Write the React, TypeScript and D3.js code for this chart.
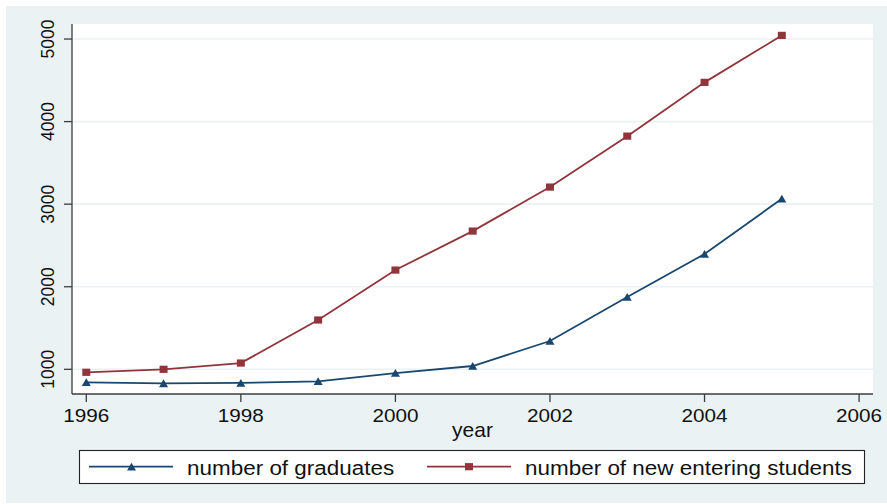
import * as d3 from 'd3'

const years = [1996, 1997, 1998, 1999, 2000, 2001, 2002, 2003, 2004, 2005]
const graduates = [843, 830, 835, 855, 955, 1040, 1343, 1875, 2396, 3065]
const newStudents = [964, 1000, 1076, 1597, 2202, 2674, 3207, 3824, 4475, 5044]
const yTicks = [1000, 2000, 3000, 4000, 5000]
const xTicks = [1996, 1998, 2000, 2002, 2004, 2006]
const seriesNames = ['number of graduates', 'number of new entering students']

const W = 887
const H = 504
const plot = { left: 72, right: 873, top: 24, bottom: 394 }
const blue = '#1a476f'
const red = '#90353b'
const bg = '#eaf2f3'
const axisColor = '#3c3c3c'
const font = 'Arial, "Liberation Sans", Helvetica, sans-serif'

const x = d3.scaleLinear().domain([1995.815, 2006.18]).range([plot.left, plot.right])
const y = d3.scaleLinear().domain([701, 5182]).range([plot.bottom, plot.top])

const line = d3
	.line<number>()
	.x((_, i) => x(years[i]))
	.y((d) => y(d))

const tri = (cx: number, cy: number, s = 9) =>
	`M${cx - s / 2},${cy + s * 0.42} L${cx + s / 2},${cy + s * 0.42} L${cx},${cy - s * 0.45} Z`

const App = () => {
	return (
		<div style={{ position: 'absolute', left: 0, top: 0 }}>
			<svg width={W} height={H} style={{ display: 'block', fontFamily: font }}>
				<rect x={0} y={0} width={W} height={H} fill='#fff' />
				<rect x={6} y={6} width={W - 6} height={H - 7} fill={bg} />
				<rect
					x={plot.left}
					y={plot.top}
					width={plot.right - plot.left}
					height={plot.bottom - plot.top}
					fill='#fff'
				/>
				{/* grid */}
				{yTicks.map((t) => (
					<line
						key={'g' + t}
						x1={plot.left}
						x2={plot.right}
						y1={y(t)}
						y2={y(t)}
						stroke={bg}
						strokeWidth={1.6}
					/>
				))}
				{/* y axis */}
				<line x1={plot.left} x2={plot.left} y1={plot.top} y2={plot.bottom} stroke={axisColor} strokeWidth={1.3} />
				{yTicks.map((t) => (
					<g key={'y' + t}>
						<line x1={plot.left - 8} x2={plot.left} y1={y(t)} y2={y(t)} stroke={axisColor} strokeWidth={1.3} />
						<text
							transform={`translate(54,${y(t)}) rotate(-90)`}
							textAnchor='middle'
							fontSize={17.5}
							fill='#111'
						>
							{t}
						</text>
					</g>
				))}
				{/* x axis */}
				<line x1={plot.left} x2={plot.right} y1={plot.bottom} y2={plot.bottom} stroke={axisColor} strokeWidth={1.3} />
				{xTicks.map((t) => (
					<g key={'x' + t}>
						<line x1={x(t)} x2={x(t)} y1={plot.bottom} y2={plot.bottom + 8} stroke={axisColor} strokeWidth={1.3} />
						<text
							transform={`translate(${x(t)},422) scale(1.15,1)`}
							textAnchor='middle'
							fontSize={18}
							fill='#111'
						>
							{t}
						</text>
					</g>
				))}
				<text
					transform={`translate(${(plot.left + plot.right) / 2},437) scale(1.05,1)`}
					textAnchor='middle'
					fontSize={20}
					fill='#111'
				>
					year
				</text>
				{/* series */}
				<path d={line(graduates) ?? ''} fill='none' stroke={blue} strokeWidth={1.8} />
				<path d={line(newStudents) ?? ''} fill='none' stroke={red} strokeWidth={1.8} />
				{graduates.map((v, i) => (
					<path key={'gm' + i} d={tri(x(years[i]), y(v))} fill={blue} />
				))}
				{newStudents.map((v, i) => (
					<rect key={'nm' + i} x={x(years[i]) - 4} y={y(v) - 3.6} width={8} height={7.2} fill={red} />
				))}
				{/* legend */}
				<rect x={79.5} y={450.5} width={785} height={33} fill='#fff' stroke='#222' strokeWidth={1.1} />
				<line x1={89} x2={173} y1={466.7} y2={466.7} stroke={blue} strokeWidth={1.8} />
				<path d={tri(131.5, 466.7)} fill={blue} />
				<text transform='translate(187,475) scale(1.07,1)' fontSize={21} fill='#111'>
					{seriesNames[0]}
				</text>
				<line x1={427} x2={511} y1={466.7} y2={466.7} stroke={red} strokeWidth={1.8} />
				<rect x={465} y={463.1} width={8} height={7.2} fill={red} />
				<text transform='translate(525,475) scale(1.07,1)' fontSize={21} fill='#111'>
					{seriesNames[1]}
				</text>
			</svg>
		</div>
	)
}

export default App
